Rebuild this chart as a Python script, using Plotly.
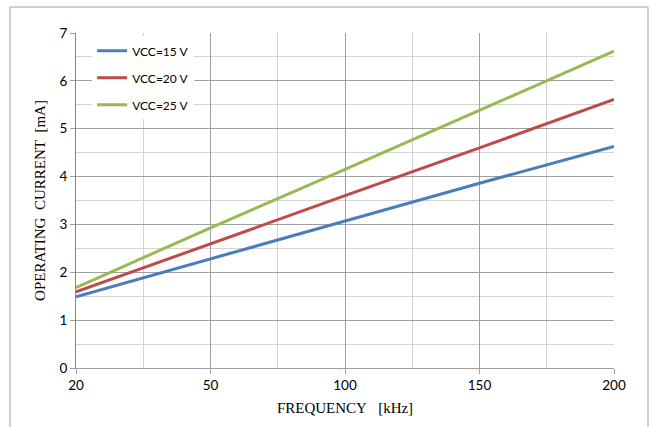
import plotly.graph_objects as go

freq_labels = ["20", "50", "100", "150", "200"]
vcc15 = [1.49, 2.28, 3.07, 3.86, 4.63]
vcc20 = [1.59, 2.60, 3.60, 4.60, 5.61]
vcc25 = [1.68, 2.93, 4.15, 5.38, 6.62]
series_names = ["VCC=15 V", "VCC=20 V", "VCC=25 V"]
colors = ["#4A7EBB", "#BE4B48", "#98B954"]

xpos = list(range(len(freq_labels)))

fig = go.Figure()
for i, (name, vals, col) in enumerate(zip(series_names, [vcc15, vcc20, vcc25], colors)):
    fig.add_trace(go.Scatter(x=xpos, y=vals, mode="lines", name=name,
                             line=dict(color=col, width=3), legendgroup=f"g{i}"))

tick_font = dict(family="Lato, Noto Sans, sans-serif", size=13.5, color="#000000")
title_font = dict(family="Liberation Serif, serif", size=15, color="#000000")

fig.update_xaxes(range=[0, 4], tickmode="array", tickvals=xpos, ticktext=freq_labels,
                 showgrid=True, gridcolor="#A0A0A0", gridwidth=1,
                 ticks="outside", ticklen=5, tickcolor="#A0A0A0",
                 showline=True, linecolor="#A0A0A0", linewidth=1, mirror=False,
                 zeroline=False, tickfont=tick_font, automargin=False,
                 minor=dict(tickmode="array", tickvals=[0.5, 1.5, 2.5, 3.5],
                            showgrid=True, gridcolor="#D4D4D4", gridwidth=1),
                 title=dict(text="FREQUENCY\u00a0\u00a0\u00a0[kHz]", font=title_font, standoff=10))
fig.update_yaxes(range=[0, 7], tickmode="linear", tick0=0, dtick=1,
                 showgrid=True, gridcolor="#A0A0A0", gridwidth=1,
                 ticks="outside", ticklen=5, tickcolor="#A0A0A0",
                 showline=True, linecolor="#868686", linewidth=1,
                 zeroline=False, tickfont=tick_font, automargin=False,
                 minor=dict(tickmode="linear", tick0=0.5, dtick=1,
                            showgrid=True, gridcolor="#D4D4D4", gridwidth=1),
                 title=dict(text="OPERATING\u00a0\u00a0CURRENT\u00a0\u00a0[mA]", font=title_font, standoff=10))

fig.add_shape(type="rect", xref="paper", yref="paper",
              x0=(10 - 76) / 538, x1=(648 - 76) / 538,
              y0=(368 - 440) / 335, y1=(368 - 7) / 335,
              line=dict(color="#A0A0A0", width=1), fillcolor="rgba(0,0,0,0)", layer="below")

fig.update_layout(
    width=654, height=427,
    margin=dict(l=76, r=40, t=33, b=59),
    paper_bgcolor="white", plot_bgcolor="white",
    showlegend=True,
    legend=dict(x=0.03, y=0.99, xanchor="left", yanchor="top",
                bgcolor="white", borderwidth=0, tracegroupgap=8,
                font=dict(family="Lato, Noto Sans, sans-serif", size=12, color="#000000")),
)

fig.write_html("out.html", config={"displayModeBar": False},
               post_script="document.body.style.margin='0';document.body.style.overflow='hidden';")
